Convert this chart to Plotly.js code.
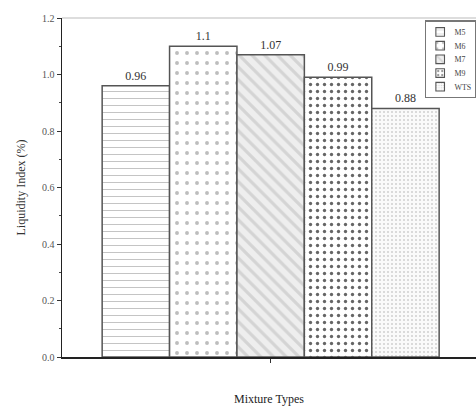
<!DOCTYPE html>
<html><head><meta charset="utf-8">
<script src="https://cdn.plot.ly/plotly-3.0.1.min.js"></script>
<style>html,body{margin:0;padding:0;background:#fff}#c{width:476px;height:410px}</style>
</head><body><div id="c"></div>
<script>
const names = ["M5","M6","M7","M9","WTS"];
const values = [0.96, 1.1, 1.07, 0.99, 0.88];
const labels = ["0.96","1.1","1.07","0.99","0.88"];
const shapes = ["-", ".", "\\", ".", "."];
const fg = ["#c4c4c4","#bdbdbd","#d4d4d4","#666666","#d0d0d0"];
const bg = ["#ffffff","#ffffff","#eeeeee","#ffffff","#fafafa"];
const psize = [7, 10, 9, 7, 4];
const sol = [0.15, 0.12, 0.35, 0.18, 0.2];
const font = "Liberation Serif, Times New Roman, serif";
const traces = names.map((n,i)=>({
  type:"bar", name:n, x:[0], y:[values[i]], text:[labels[i]],
  textposition:"outside", cliponaxis:false,
  textfont:{family:font,size:12,color:"#333"},
  marker:{color:bg[i], line:{color:"#555",width:1.5},
    pattern:{shape:shapes[i], fgcolor:fg[i], bgcolor:bg[i], size:psize[i], solidity:sol[i]}}
}));
Plotly.newPlot("c", traces, {
  width:476, height:410, margin:{l:62,r:0,t:18,b:53},
  paper_bgcolor:"#fff", plot_bgcolor:"#fff",
  bargap:0.186, barmode:"group",
  font:{family:font,color:"#444"},
  xaxis:{range:[-0.504,0.496], tickvals:[0], ticktext:[""], ticks:"outside", ticklen:4, tickcolor:"#333",
    showgrid:false, zeroline:false, showline:true, linecolor:"#222", linewidth:1.5, mirror:false,
    title:{text:"Mixture Types", font:{family:font,size:12,color:"#222"}, standoff:30}},
  yaxis:{range:[0,1.2], dtick:0.2, tickformat:".1f", ticks:"outside", ticklen:4, tickcolor:"#333",
    tickfont:{family:font,size:10,color:"#555"},
    minor:{ticks:"outside", ticklen:2, dtick:0.1, tickcolor:"#444"},
    showgrid:false, zeroline:false, showline:true, linecolor:"#222", linewidth:1.5,
    title:{text:"Liquidity Index (%)", font:{family:font,size:12,color:"#333"}, standoff:14}},
  shapes:[{type:"line", xref:"paper", yref:"paper", x0:0, x1:1, y0:1, y1:1, line:{color:"#bbb",width:1}}],
  showlegend:true,
  legend:{x:1, y:0.985, xanchor:"right", yanchor:"top", bgcolor:"#fff", bordercolor:"#777", borderwidth:1.5,
    font:{family:font,size:11,color:"#444"}, itemwidth:30, tracegroupgap:0, traceorder:"normal"}
}, {displayModeBar:false, staticPlot:true}).then(gd => {
  const lg = gd.querySelector('.legend');
  if (!lg) return;
  const s = 0.72;
  const bb = lg.getBBox();
  const tx = 476 - (bb.x + bb.width) * s;
  const ty = 21 - bb.y * s;
  lg.setAttribute('transform', `translate(${tx},${ty}) scale(${s})`);
});
</script></body></html>
